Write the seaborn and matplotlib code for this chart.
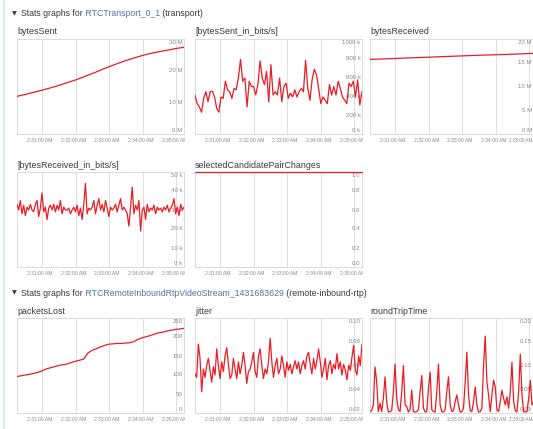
import numpy as np
import pandas as pd
import matplotlib
matplotlib.use("Agg")
import matplotlib.pyplot as plt
import seaborn as sns
from matplotlib.transforms import Bbox, offset_copy

sns.set_style("white")
plt.rcParams["font.family"] = ["Liberation Sans", "DejaVu Sans"]

# ---------------- data ----------------
time_labels = ["2:31:00 AM", "2:32:00 AM", "2:33:00 AM", "2:34:00 AM", "2:35:00 AM"]
time_ticks_s = [0, 60, 120, 180, 240]          # seconds after 2:31:00
t_start_s, t_end_s = -44.6, 253.6               # visible window

header1 = ["Stats graphs for", " RTCTransport_0_1", " (transport)"]
header2 = ["Stats graphs for", " RTCRemoteInboundRtpVideoStream_1431683629", " (remote-inbound-rtp)"]

bytes_sent_M = [11.9, 12.6, 13.4, 14.2, 15.1, 16.1, 17.1, 18.3, 19.5, 20.8,
                22.0, 23.1, 24.1, 25.0, 25.7, 26.3, 26.9, 27.4]

bytes_sent_bps_k = [410, 320, 285, 230, 375, 445, 340, 445, 450, 390, 270, 230, 390, 375,
                    555, 465, 445, 375, 480, 465, 590, 785, 555, 590, 285, 555, 500, 500,
                    410, 520, 770, 590, 520, 660, 340, 730, 410, 445, 410, 590, 340, 500,
                    535, 375, 430, 390, 465, 390, 445, 480, 445, 775, 480, 355, 570, 680,
                    625, 480, 320, 390, 355, 320, 520, 410, 500, 410, 555, 480, 390, 355,
                    320, 535, 500, 555, 390, 570, 305, 445]

bytes_received_M = [15.7, 15.85, 16.0, 16.15, 16.3, 16.45, 16.6, 16.7, 16.85, 17.0]

bytes_received_bps_k = [33, 30, 35, 28, 32.5, 27, 31.5, 30, 33, 30, 29, 33, 35, 26.5, 31, 39,
                        29, 31.5, 25, 31, 32.5, 30, 33, 29, 32.5, 30, 35, 28, 31.5, 30, 30,
                        31, 28, 30, 31.5, 29, 32.5, 27, 31, 25, 33, 44, 28, 31, 30, 31.5, 35,
                        28, 32.5, 36, 30, 33, 29, 35, 31, 26.5, 31.5, 30, 31, 33, 29, 32.5,
                        36, 30, 31.5, 30, 28, 21.5, 31.5, 42, 28, 32.5, 30, 35, 19, 30, 31.5,
                        25, 33, 29, 31, 30, 32.5, 28, 31.5, 30, 31, 29, 31.5, 30, 32.5, 29,
                        31, 32.5, 36, 28, 31.5, 27, 33, 30, 31.5]

selected_pair_changes = [1, 1, 1, 1, 1, 1, 1, 1, 1, 1]

packets_lost = [96, 98, 100, 102, 104, 107, 111, 116, 119, 122, 125, 127, 129, 133, 136,
                139, 142, 158, 165, 169, 174, 178, 181, 182, 183, 183, 184, 185, 188, 194,
                198, 201, 204, 208, 211, 213, 216, 218, 220, 221, 223]

jitter = [0.053, 0.050, 0.078, 0.066, 0.038, 0.057, 0.050, 0.060, 0.066, 0.056, 0.046, 0.059,
          0.052, 0.074, 0.060, 0.049, 0.063, 0.055, 0.068, 0.075, 0.061, 0.049, 0.052, 0.066,
          0.057, 0.049, 0.063, 0.053, 0.060, 0.071, 0.060, 0.045, 0.055, 0.057, 0.063, 0.071,
          0.055, 0.050, 0.068, 0.074, 0.060, 0.049, 0.057, 0.053, 0.063, 0.083, 0.063, 0.050,
          0.060, 0.066, 0.053, 0.057, 0.068, 0.060, 0.050, 0.063, 0.056, 0.061, 0.053, 0.059,
          0.064, 0.057, 0.063, 0.053, 0.060, 0.064, 0.057, 0.068, 0.071, 0.061, 0.053, 0.066,
          0.057, 0.064, 0.074, 0.063, 0.050, 0.057, 0.066, 0.048, 0.060, 0.064, 0.053, 0.061,
          0.057, 0.070, 0.057, 0.063, 0.052, 0.061, 0.056, 0.048, 0.060, 0.056, 0.067, 0.077,
          0.056, 0.052, 0.068, 0.060, 0.078]

round_trip_time = [0.003, 0.005, 0.017, 0.097, 0.066, 0.003, 0.021, 0.003, 0.031, 0.076, 0.024,
                   0.002, 0.003, 0.005, 0.045, 0.103, 0.031, 0.007, 0.003, 0.045, 0.100, 0.017,
                   0.014, 0.002, 0.007, 0.048, 0.003, 0.002, 0.003, 0.007, 0.045, 0.079, 0.010,
                   0.002, 0.003, 0.052, 0.086, 0.007, 0.003, 0.002, 0.045, 0.103, 0.017, 0.003,
                   0.002, 0.007, 0.045, 0.076, 0.017, 0.003, 0.005, 0.024, 0.038, 0.017, 0.002,
                   0.003, 0.010, 0.066, 0.128, 0.038, 0.005, 0.003, 0.024, 0.055, 0.017, 0.002,
                   0.003, 0.010, 0.100, 0.162, 0.066, 0.038, 0.003, 0.038, 0.069, 0.055, 0.007,
                   0.003, 0.024, 0.048, 0.031, 0.017, 0.034, 0.010, 0.045, 0.107, 0.024, 0.005,
                   0.002, 0.045, 0.124, 0.038, 0.003, 0.002, 0.003, 0.031, 0.069, 0.017, 0.024,
                   0.066, 0.045]

# ---------------- figure ----------------
W, H = 533, 429
fig = plt.figure(figsize=(W / 100, H / 100), dpi=100)
fig.patch.set_facecolor("white")

RED = "#ea1c24"
GRID = "#dedede"
TXT = "#3a3a3a"
LAB = "#8a8a8a"
BLUE = "#4f74a8"
PW, PH = 167, 95


def add_ax(x0, y0):
    return fig.add_axes([x0 / W, 1 - (y0 + PH) / H, PW / W, PH / H])


def panel(x0, y0, title, values, ymin, ymax, ylabels, lab_right=None, last_right=False):
    ax = add_ax(x0, y0)
    t = np.linspace(t_start_s, t_end_s, len(values))
    df = pd.DataFrame({"t": t, "v": values})
    for g in time_ticks_s:
        ax.axvline(g, color=GRID, lw=0.7, zorder=0)
    n = len(ylabels)
    xr_px = (x0 + PW - 1.5) if lab_right is None else lab_right
    xr = (xr_px - x0) / PW
    for i, lab in enumerate(ylabels):
        yy = 1 - i / (n - 1)
        va = "top" if i == 0 else ("bottom" if i == n - 1 else "center")
        off = -1.0 / PH if i == 0 else (1.0 / PH if i == n - 1 else 0)
        ax.text(xr, yy + off, lab, transform=ax.transAxes, ha="right", va=va,
                fontsize=4.4, color=LAB, zorder=1, clip_on=False)
    sns.lineplot(data=df, x="t", y="v", ax=ax, color=RED, lw=0.9, zorder=3)
    ax.set_xlim(t_start_s, t_end_s)
    ax.set_ylim(ymin, ymax)
    ax.set_xticks([])
    ax.set_yticks([])
    ax.set_xlabel("")
    ax.set_ylabel("")
    for s in ax.spines.values():
        s.set_color("#d6d6d6")
        s.set_linewidth(0.6)
    # title
    fig.text(x0 / W, 1 - (y0 - 7) / H, title, fontsize=6.4, color=TXT,
             ha="left", va="center")
    # time labels
    clip = Bbox([[x0, 0], [x0 + PW + 1, H]])
    tr = offset_copy(ax.get_xaxis_transform(), fig=fig, x=-2, y=-6.5, units="dots")
    for k, (g, lab) in enumerate(zip(time_ticks_s, time_labels)):
        if last_right and k == len(time_labels) - 1:
            fig.text(532.5 / W, 1 - (y0 + PH + 6.5) / H, lab, ha="right", va="center",
                     fontsize=3.3, color=LAB)
            continue
        tx = ax.text(g, 0, lab, transform=tr, ha="center", va="center",
                     fontsize=3.6, color=LAB, clip_on=True)
        tx.set_clip_box(clip)
    return ax


def header(y, parts):
    fig.text(12 / W, 1 - y / H, "\u25bc", fontsize=4.5, color=TXT, ha="left", va="center",
             family=["DejaVu Sans"])
    r = fig.canvas.get_renderer()
    x = 21
    colors = [TXT, BLUE, TXT]
    for s, c in zip(parts, colors):
        t = fig.text(x / W, 1 - y / H, s, fontsize=6.3, color=c, ha="left", va="center")
        x += t.get_window_extent(renderer=r).width


# left accent line
fig.add_artist(plt.Line2D([3.5 / W, 3.5 / W], [0, 1], color="#d3ecf3", lw=1.6))

header(14, header1)
header(293, header2)

X1, X2, X3 = 17, 195, 370
R1, R2, R3 = 39, 172, 318

panel(X1, R1, "bytesSent", bytes_sent_M, 0, 30, ["30 M", "20 M", "10 M", "0 M"])
panel(X2, R1, "[bytesSent_in_bits/s]", bytes_sent_bps_k, 0, 1000,
      ["1000 k", "800 k", "600 k", "400 k", "200 k", "0 k"])
panel(X3, R1, "bytesReceived", bytes_received_M, 0, 20, ["20 M", "15 M", "10 M", "5 M", "0 M"],
      lab_right=532, last_right=True)

panel(X1, R2, "[bytesReceived_in_bits/s]", bytes_received_bps_k, 0, 50,
      ["50 k", "40 k", "30 k", "20 k", "10 k", "0 k"])
axE = panel(X2, R2, "selectedCandidatePairChanges", selected_pair_changes, 0, 1,
            ["1.0", "0.8", "0.6", "0.4", "0.2", "0.0"])
for ln in axE.get_lines():
    ln.set_clip_on(False)

panel(X1, R3, "packetsLost", packets_lost, 0, 250, ["250", "200", "150", "100", "50", "0"])
panel(X2, R3, "jitter", jitter, 0.02, 0.10, ["0.10", "0.08", "0.06", "0.04", "0.02"])
panel(X3, R3, "roundTripTime", round_trip_time, 0, 0.20, ["0.20", "0.15", "0.10", "0.05", "0.00"],
      lab_right=532, last_right=True)

fig.savefig("out.png", dpi=100, facecolor="white")
